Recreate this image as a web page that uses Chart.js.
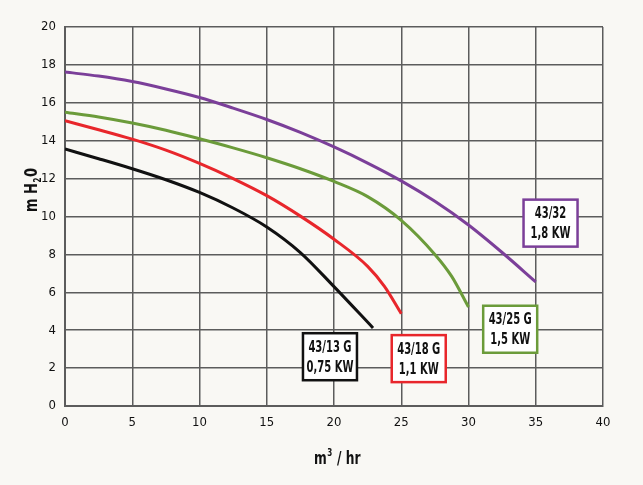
<!DOCTYPE html>
<html>
<head>
<meta charset="utf-8">
<script src="https://cdn.jsdelivr.net/npm/chart.js@4"></script>
<style>
  html, body { margin: 0; padding: 0; background: #f9f8f4; }
  #wrap { width: 643px; height: 485px; }
</style>
</head>
<body>
<div id="wrap"><canvas id="pumpChart" width="643" height="485"></canvas></div>
<script>
// Pump curves: flow (m3/hr) vs head (m H2O)
const flow32 = [0, 2.5, 5, 7.5, 10, 12.5, 15, 17.5, 20, 22.5, 25, 27.5, 30, 32.5, 35];
const head32 = [17.62, 17.41, 17.12, 16.73, 16.28, 15.72, 15.12, 14.44, 13.67, 12.82, 11.88, 10.8, 9.55, 8.1, 6.55];

const flow25 = [0, 2.5, 5, 7.5, 10, 12.5, 15, 17.5, 20, 22.5, 25, 27.5, 28.75, 30];
const head25 = [15.5, 15.25, 14.93, 14.55, 14.1, 13.62, 13.1, 12.52, 11.85, 11.05, 9.8, 8.0, 6.84, 5.22];

const flow18 = [0, 2.5, 5, 7.5, 10, 12.5, 15, 17.5, 20, 22.5, 23.75, 25];
const head18 = [15.05, 14.58, 14.08, 13.5, 12.8, 12.0, 11.1, 10.02, 8.8, 7.37, 6.31, 4.87];

const flow13 = [0, 2.5, 5, 7.5, 10, 12.5, 15, 17.5, 20, 22.9];
const head13 = [13.56, 13.05, 12.52, 11.94, 11.27, 10.45, 9.45, 8.1, 6.3, 4.12];

const xTicks = [0, 5, 10, 15, 20, 25, 30, 35, 40];
const yTicks = [0, 2, 4, 6, 8, 10, 12, 14, 16, 18, 20];

// label boxes: text lines, colour, box centre in data units
const pumpLabels = [
  { lines: ['43/13 G', '0,75 KW'], color: '#111111', x: 19.7, y: 2.6 },
  { lines: ['43/18 G', '1,1 KW'], color: '#e8262b', x: 26.3, y: 2.5 },
  { lines: ['43/25 G', '1,5 KW'], color: '#6b9b3a', x: 33.1, y: 4.05 },
  { lines: ['43/32', '1,8 KW'], color: '#7b3f99', x: 36.1, y: 9.65 }
];

const FONT = '"DejaVu Sans Condensed", "Liberation Sans Narrow", sans-serif';

function toPoints(xs, ys) {
  return xs.map((x, i) => ({ x: x, y: ys[i] }));
}

function curve(label, xs, ys, color) {
  return {
    label: label,
    data: toPoints(xs, ys),
    borderColor: color,
    borderWidth: 3,
    pointRadius: 0,
    fill: false,
    cubicInterpolationMode: 'monotone'
  };
}

// text squeezed horizontally to look like a condensed face
function narrowText(ctx, text, x, y, squeeze) {
  ctx.save();
  ctx.translate(x, y);
  ctx.scale(squeeze, 1);
  ctx.fillText(text, 0, 0);
  ctx.restore();
}

// draws the axis titles and the boxed labels
const extrasPlugin = {
  id: 'extras',
  afterDraw(chart) {
    const ctx = chart.ctx;
    const xs = chart.scales.x;
    const ys = chart.scales.y;
    const sq = 0.8;

    ctx.save();
    ctx.fillStyle = '#111';
    ctx.textBaseline = 'alphabetic';
    ctx.textAlign = 'left';

    // x title: m³ / hr
    ctx.font = 'bold 17px ' + FONT;
    let cx = 314;
    narrowText(ctx, 'm', cx, 464, sq);
    cx += ctx.measureText('m').width * sq;
    ctx.font = 'bold 10px ' + FONT;
    narrowText(ctx, '3', cx + 0.5, 456, sq);
    cx += ctx.measureText('3').width * sq + 1;
    ctx.font = 'bold 17px ' + FONT;
    narrowText(ctx, ' / hr', cx, 464, sq);

    // y title: m H2O rotated
    ctx.translate(37, 190);
    ctx.rotate(-Math.PI / 2);
    ctx.font = 'bold 18px ' + FONT;
    const p1 = 'm H', p2 = '2', p3 = '0';
    const w1 = ctx.measureText(p1).width * sq;
    const w3 = ctx.measureText(p3).width * sq;
    ctx.font = 'bold 10px ' + FONT;
    const w2 = ctx.measureText(p2).width * sq;
    let sx = -(w1 + w2 + w3 + 1) / 2;
    ctx.font = 'bold 18px ' + FONT;
    narrowText(ctx, p1, sx, 0, sq);
    sx += w1;
    ctx.font = 'bold 10px ' + FONT;
    narrowText(ctx, p2, sx + 0.5, 4, sq);
    sx += w2 + 1;
    ctx.font = 'bold 18px ' + FONT;
    narrowText(ctx, p3, sx, 0, sq);
    ctx.restore();

    // boxed labels
    ctx.save();
    pumpLabels.forEach(lab => {
      const px = xs.getPixelForValue(lab.x);
      const py = ys.getPixelForValue(lab.y);
      const w = 54, h = 47;
      ctx.fillStyle = '#ffffff';
      ctx.fillRect(px - w / 2, py - h / 2, w, h);
      ctx.lineWidth = 2.5;
      ctx.strokeStyle = lab.color;
      ctx.strokeRect(px - w / 2, py - h / 2, w, h);
      ctx.fillStyle = '#111';
      ctx.font = 'bold 15px ' + FONT;
      ctx.textAlign = 'center';
      ctx.textBaseline = 'middle';
      narrowText(ctx, lab.lines[0], px, py - 9, 0.74);
      narrowText(ctx, lab.lines[1], px, py + 11, 0.74);
    });
    ctx.restore();
  }
};

const ctx = document.getElementById('pumpChart').getContext('2d');
new Chart(ctx, {
  type: 'line',
  data: {
    datasets: [
      curve('43/32 1,8 KW', flow32, head32, '#7b3f99'),
      curve('43/25 G 1,5 KW', flow25, head25, '#6b9b3a'),
      curve('43/18 G 1,1 KW', flow18, head18, '#e8262b'),
      curve('43/13 G 0,75 KW', flow13, head13, '#111111')
    ]
  },
  options: {
    responsive: false,
    animation: false,
    layout: { padding: { top: 27, right: 40, left: 0, bottom: 0 } },
    plugins: {
      legend: { display: false },
      tooltip: { enabled: false }
    },
    scales: {
      x: {
        type: 'linear',
        min: 0,
        max: 40,
        afterBuildTicks: scale => { scale.ticks = xTicks.map(v => ({ value: v })); },
        afterFit: scale => { scale.height = 79; },
        grid: { color: '#5c5c5c', lineWidth: 1.5, drawTicks: false },
        border: { color: '#5c5c5c', width: 2 },
        ticks: {
          color: '#111',
          padding: 9,
          maxRotation: 0,
          font: { family: FONT, size: 13 }
        }
      },
      y: {
        min: 0,
        max: 20,
        afterBuildTicks: scale => { scale.ticks = yTicks.map(v => ({ value: v })); },
        afterFit: scale => { scale.width = 65; },
        grid: { color: '#5c5c5c', lineWidth: 1.5, drawTicks: false },
        border: { color: '#5c5c5c', width: 2 },
        ticks: {
          color: '#111',
          padding: 9,
          font: { family: FONT, size: 13 }
        }
      }
    }
  },
  plugins: [extrasPlugin]
});
</script>
</body>
</html>
